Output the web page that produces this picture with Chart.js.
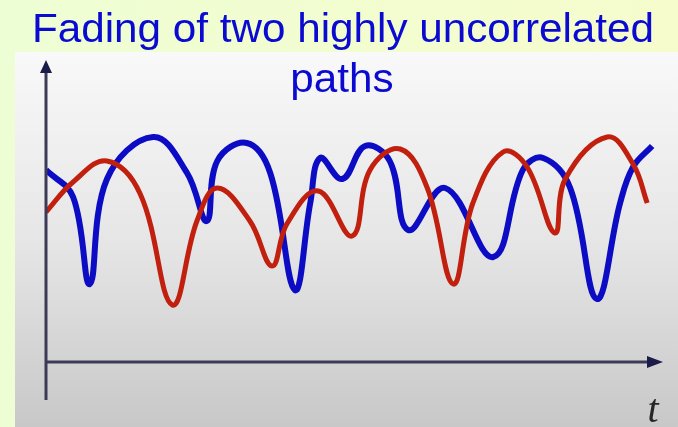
<!DOCTYPE html>
<html>
<head>
<meta charset="utf-8">
<script src="https://cdn.jsdelivr.net/npm/chart.js@4"></script>
<style>
  html, body { margin: 0; padding: 0; background: #effed2; }
  #wrap { width: 678px; height: 427px; position: relative; }
</style>
</head>
<body>
<div id="wrap"><canvas id="fading" width="678" height="427"></canvas></div>
<script>
const titleLines = ['Fading of two highly uncorrelated', 'paths'];
const axisLabel = 't';

// time samples (arbitrary units 0..100) and envelope (0..10)
const blueT = [0, 4.4, 7.1, 9.9, 17.4, 22.9, 26.1, 27.8, 32.6, 36.4, 40.4, 42.9, 44.5, 48.1, 51.8, 55.8, 58.8, 64.8, 72.6, 77.4, 80.7, 85.1, 89.4, 93.2, 95.3, 98.4];
const blueV = [6.4, 5.5, 2.6, 6.1, 7.5, 6.3, 4.7, 6.7, 7.3, 6.3, 2.4, 5.3, 6.8, 6.1, 7.2, 6.7, 4.4, 5.8, 3.5, 6.4, 6.8, 5.8, 2.1, 5.3, 6.5, 7.2];
const redT = [0, 4.4, 9.9, 15.3, 20.5, 24.5, 27.8, 33.1, 36.7, 39.1, 44.2, 49.7, 52.6, 57.5, 61.9, 66.1, 69.3, 74.2, 78.1, 82.6, 84.3, 91.1, 95.3, 97.6];
const redV = [5.0, 6.0, 6.7, 5.6, 1.9, 4.7, 5.8, 4.7, 3.2, 4.6, 5.7, 4.2, 6.4, 7.1, 5.8, 2.6, 5.3, 7.0, 6.5, 4.3, 6.1, 7.5, 6.6, 5.3];

const toPoints = (ts, vs) => ts.map((t, i) => ({ x: t, y: vs[i] }));

const decor = {
  id: 'decor',
  beforeDraw(chart) {
    const { ctx } = chart;
    ctx.save();
    const bg = ctx.createLinearGradient(0, 0, 678, 0);
    bg.addColorStop(0, '#eefed4');
    bg.addColorStop(1, '#f6fccc');
    ctx.fillStyle = bg;
    ctx.fillRect(0, 0, 678, 427);
    const panel = ctx.createLinearGradient(0, 52, 0, 427);
    panel.addColorStop(0, '#f9f9f9');
    panel.addColorStop(0.5, '#e6e6e6');
    panel.addColorStop(1, '#c8c8c8');
    ctx.fillStyle = panel;
    ctx.fillRect(15, 52, 663, 375);
    ctx.restore();
  },
  afterDatasetsDraw(chart) {
    const { ctx, chartArea, scales } = chart;
    const x0 = scales.x.getPixelForValue(0);
    const y0 = scales.y.getPixelForValue(0);
    ctx.save();
    ctx.strokeStyle = '#3b3b58';
    ctx.fillStyle = '#1c1c4a';
    ctx.lineWidth = 3;
    ctx.beginPath();
    ctx.moveTo(x0, y0 + 38);
    ctx.lineTo(x0, chartArea.top + 8);
    ctx.moveTo(x0, y0);
    ctx.lineTo(chartArea.right - 8, y0);
    ctx.stroke();
    ctx.beginPath();
    ctx.moveTo(x0, chartArea.top - 2);
    ctx.lineTo(x0 - 6, chartArea.top + 11);
    ctx.lineTo(x0 + 6, chartArea.top + 11);
    ctx.closePath();
    ctx.fill();
    ctx.beginPath();
    ctx.moveTo(chartArea.right + 1, y0);
    ctx.lineTo(chartArea.right - 15, y0 - 6);
    ctx.lineTo(chartArea.right - 15, y0 + 6);
    ctx.closePath();
    ctx.fill();

    ctx.fillStyle = '#262626';
    ctx.font = 'italic 40px "Liberation Serif", serif';
    ctx.textAlign = 'center';
    ctx.textBaseline = 'alphabetic';
    ctx.fillText(axisLabel, chartArea.right - 9, y0 + 60);

    ctx.fillStyle = '#0a0ad0';
    ctx.font = '41px "Liberation Sans", Arial, sans-serif';
    ctx.translate(343, 0);
    ctx.scale(1.03, 1);
    ctx.fillText(titleLines[0], 0, 42);
    ctx.fillText(titleLines[1], -1, 92);
    ctx.restore();
  }
};

new Chart(document.getElementById('fading'), {
  type: 'line',
  data: {
    datasets: [
      {
        label: 'Path 1',
        data: toPoints(redT, redV),
        borderColor: '#c1200f',
        borderWidth: 5,
        tension: 0.4,
        pointRadius: 0,
        fill: false
      },
      {
        label: 'Path 2',
        data: toPoints(blueT, blueV),
        borderColor: '#0c0cc4',
        borderWidth: 6,
        tension: 0.4,
        pointRadius: 0,
        fill: false
      }
    ]
  },
  options: {
    responsive: false,
    animation: false,
    layout: { padding: { left: 46, top: 62, right: 16, bottom: 65 } },
    plugins: { legend: { display: false }, title: { display: false }, tooltip: { enabled: false } },
    scales: {
      x: { type: 'linear', min: 0, max: 100, display: false },
      y: { min: 0, max: 10, display: false }
    }
  },
  plugins: [decor]
});
</script>
</body>
</html>
